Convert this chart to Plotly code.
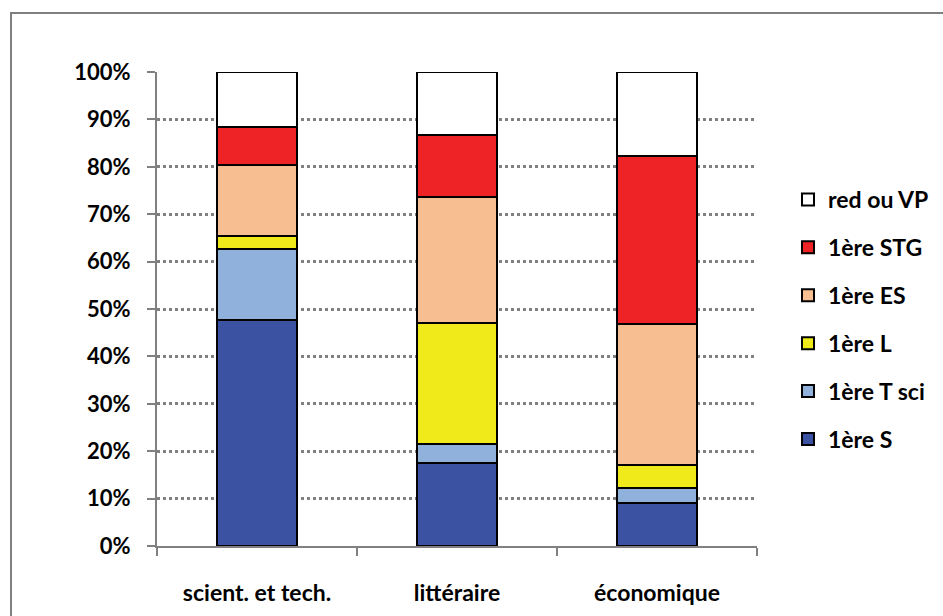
import plotly.graph_objects as go

categories = ["scient. et tech.", "littéraire", "économique"]
series_names = ["1ère S", "1ère T sci", "1ère L", "1ère ES", "1ère STG", "red ou VP"]
s_vals = [0.477, 0.176, 0.090]
tsci_vals = [0.149, 0.039, 0.032]
l_vals = [0.028, 0.256, 0.049]
es_vals = [0.149, 0.265, 0.297]
stg_vals = [0.082, 0.131, 0.355]
red_vals = [0.115, 0.133, 0.177]
colors = ["#3b52a3", "#8fb1dc", "#f0ea1a", "#f7bf91", "#ee2326", "#ffffff"]
y_ticks = [0, 0.1, 0.2, 0.3, 0.4, 0.5, 0.6, 0.7, 0.8, 0.9, 1.0]

all_vals = [s_vals, tsci_vals, l_vals, es_vals, stg_vals, red_vals]

GRAY = "#808080"
YFONT = dict(family="Lato", size=22, color="#000000", weight="bold")
CFONT = dict(family="Lato", size=23, color="#000000", weight="bold")

fig = go.Figure()
n = len(series_names)
for i, (name, vals, col) in enumerate(zip(series_names, all_vals, colors)):
    fig.add_trace(go.Bar(
        x=categories, y=vals, name=name, legendgroup=name,
        legendrank=n - i,
        marker=dict(color=col, line=dict(color="#000000", width=2)),
        width=0.4,
    ))

W, H = 943, 616
L, R, T, B = 157, 186, 72, 70
pw, ph = W - L - R, H - T - B

def px_x(p):
    return (p - L) / pw

def px_y(p):
    return (H - B - p) / ph

fig.update_layout(
    width=W, height=H,
    margin=dict(l=L, r=R, t=T, b=B, pad=0, autoexpand=False),
    barmode="stack",
    paper_bgcolor="#ffffff",
    plot_bgcolor="#ffffff",
    font=YFONT,
    showlegend=True,
    legend=dict(
        traceorder="grouped",
        tracegroupgap=15,
        x=px_x(788), y=px_y(178), xanchor="left", yanchor="top",
        font=CFONT,
        itemwidth=30,
        bgcolor="rgba(0,0,0,0)",
    ),
    xaxis=dict(
        type="category",
        showline=True, linecolor=GRAY, linewidth=2,
        ticks="outside", tickson="boundaries", ticklen=8, tickwidth=2, tickcolor=GRAY,
        showgrid=False,
        ticklabelstandoff=25,
        tickfont=CFONT,
        range=[-0.5, 2.5],
    ),
    yaxis=dict(
        range=[0, 1],
        tickvals=y_ticks,
        tickformat=".0%",
        showline=True, linecolor=GRAY, linewidth=2,
        ticks="outside", ticklen=8, tickwidth=2, tickcolor=GRAY,
        showgrid=True, gridcolor=GRAY, gridwidth=2.5, griddash="dot",
        zeroline=False,
        ticklabelstandoff=12,
        tickfont=YFONT,
    ),
    shapes=[
        dict(type="rect", xref="paper", yref="paper",
             x0=px_x(11), x1=px_x(1000), y0=px_y(700), y1=px_y(13),
             line=dict(color=GRAY, width=2), fillcolor="rgba(0,0,0,0)", layer="below"),
    ],
)

fig.write_html("out.html")
